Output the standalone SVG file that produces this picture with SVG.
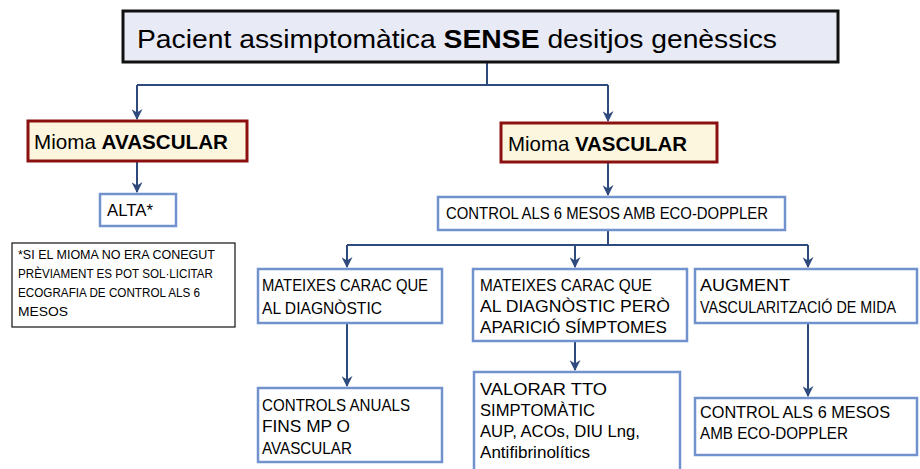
<svg xmlns="http://www.w3.org/2000/svg" width="920" height="469" viewBox="0 0 920 469">
<defs>
<marker id="ah" viewBox="0 0 10 10" refX="9" refY="5" markerWidth="11" markerHeight="11" markerUnits="userSpaceOnUse" orient="auto">
<path d="M0,0 L10,5 L0,10 L3,5 z" fill="#2F4A7C"/>
</marker>
<style>
text{font-family:"Liberation Sans","Noto Sans",sans-serif;fill:#000;}
.b{font-weight:bold;}
.blue{fill:#fff;stroke:#7292CE;stroke-width:2.5;}
.red{fill:#FDF6DE;stroke:#8B1010;stroke-width:3;}
.t15{font-size:16.5px;}
.c{fill:none;stroke:#2F4A7C;stroke-width:2;}
</style>
</defs>
<rect width="920" height="469" fill="#fff"/>
<g id="connectors">
<path class="c" d="M487,62 V85 M137,85 H608"/>
<path class="c" d="M137,85 V119" marker-end="url(#ah)"/>
<path class="c" d="M608,85 V121" marker-end="url(#ah)"/>
<path class="c" d="M137,161 V192" marker-end="url(#ah)"/>
<path class="c" d="M608,162 V195" marker-end="url(#ah)"/>
<path class="c" d="M608,230 V245 M347,245 H808"/>
<path class="c" d="M347,245 V267" marker-end="url(#ah)"/>
<path class="c" d="M575,245 V267" marker-end="url(#ah)"/>
<path class="c" d="M808,245 V267" marker-end="url(#ah)"/>
<path class="c" d="M347,323 V386" marker-end="url(#ah)"/>
<path class="c" d="M575,341 V370" marker-end="url(#ah)"/>
<path class="c" d="M808,323 V396" marker-end="url(#ah)"/>
</g>
<g id="top">
<rect x="123" y="11" width="715" height="51" fill="#E8EAF5" stroke="#111" stroke-width="3"/>
<text x="137" y="48" font-size="26" textLength="640" lengthAdjust="spacingAndGlyphs">Pacient assimptomàtica <tspan class="b">SENSE</tspan> desitjos genèssics</text>
</g>
<g id="avascular">
<rect class="red" x="28" y="121" width="219" height="40"/>
<text x="34" y="149" font-size="21" textLength="194" lengthAdjust="spacingAndGlyphs">Mioma <tspan class="b">AVASCULAR</tspan></text>
</g>
<g id="vascular">
<rect class="red" x="501" y="123" width="216" height="39"/>
<text x="508" y="151" font-size="21" textLength="179" lengthAdjust="spacingAndGlyphs">Mioma <tspan class="b">VASCULAR</tspan></text>
</g>
<g id="alta">
<rect class="blue" x="100" y="194" width="76" height="32"/>
<text class="t15" x="107" y="216" textLength="46" lengthAdjust="spacingAndGlyphs">ALTA*</text>
</g>
<g id="control6">
<rect class="blue" x="438" y="197" width="347" height="33"/>
<text class="t15" x="446" y="219" textLength="322" lengthAdjust="spacingAndGlyphs">CONTROL ALS 6 MESOS AMB ECO-DOPPLER</text>
</g>
<g id="note">
<rect x="12" y="243" width="223" height="84" fill="#fff" stroke="#111" stroke-width="1.2"/>
<g font-size="12.5">
<text x="18" y="259" textLength="197" lengthAdjust="spacingAndGlyphs">*SI EL MIOMA NO ERA CONEGUT</text>
<text x="18" y="278" textLength="195" lengthAdjust="spacingAndGlyphs">PRÈVIAMENT ES POT SOL·LICITAR</text>
<text x="18" y="297" textLength="182" lengthAdjust="spacingAndGlyphs">ECOGRAFIA DE CONTROL ALS 6</text>
<text x="18" y="316" textLength="50" lengthAdjust="spacingAndGlyphs">MESOS</text>
</g>
</g>
<g id="mateixes1">
<rect class="blue" x="258" y="269" width="184" height="54"/>
<text class="t15" x="262" y="291" textLength="166" lengthAdjust="spacingAndGlyphs">MATEIXES CARAC QUE</text>
<text class="t15" x="262" y="314" textLength="120" lengthAdjust="spacingAndGlyphs">AL DIAGNÒSTIC</text>
</g>
<g id="mateixes2">
<rect class="blue" x="473" y="269" width="214" height="72"/>
<text class="t15" x="480" y="291" textLength="172" lengthAdjust="spacingAndGlyphs">MATEIXES CARAC QUE</text>
<text class="t15" x="480" y="312" textLength="190" lengthAdjust="spacingAndGlyphs">AL DIAGNÒSTIC PERÒ</text>
<text class="t15" x="480" y="333" textLength="187" lengthAdjust="spacingAndGlyphs">APARICIÓ SÍMPTOMES</text>
</g>
<g id="augment">
<rect class="blue" x="695" y="269" width="222" height="54"/>
<text class="t15" x="700" y="291" textLength="90" lengthAdjust="spacingAndGlyphs">AUGMENT</text>
<text x="700" y="313" font-size="16" textLength="196" lengthAdjust="spacingAndGlyphs">VASCULARITZACIÓ DE MIDA</text>
</g>
<g id="anuals">
<rect class="blue" x="258" y="388" width="184" height="74"/>
<text class="t15" x="262" y="411" textLength="148" lengthAdjust="spacingAndGlyphs">CONTROLS ANUALS</text>
<text class="t15" x="262" y="432" textLength="88" lengthAdjust="spacingAndGlyphs">FINS MP O</text>
<text class="t15" x="262" y="454" textLength="90" lengthAdjust="spacingAndGlyphs">AVASCULAR</text>
</g>
<g id="valorar">
<rect class="blue" x="474" y="372" width="206" height="100"/>
<text class="t15" x="480" y="395" textLength="127" lengthAdjust="spacingAndGlyphs">VALORAR TTO</text>
<text class="t15" x="480" y="416" textLength="115" lengthAdjust="spacingAndGlyphs">SIMPTOMÀTIC</text>
<text class="t15" x="480" y="437" textLength="160" lengthAdjust="spacingAndGlyphs">AUP, ACOs, DIU Lng,</text>
<text class="t15" x="480" y="458" textLength="110" lengthAdjust="spacingAndGlyphs">Antifibrinolítics</text>
</g>
<g id="control6b">
<rect class="blue" x="695" y="398" width="222" height="57"/>
<text class="t15" x="700" y="418" textLength="190" lengthAdjust="spacingAndGlyphs">CONTROL ALS 6 MESOS</text>
<text class="t15" x="700" y="439" textLength="148" lengthAdjust="spacingAndGlyphs">AMB ECO-DOPPLER</text>
</g>
</svg>
